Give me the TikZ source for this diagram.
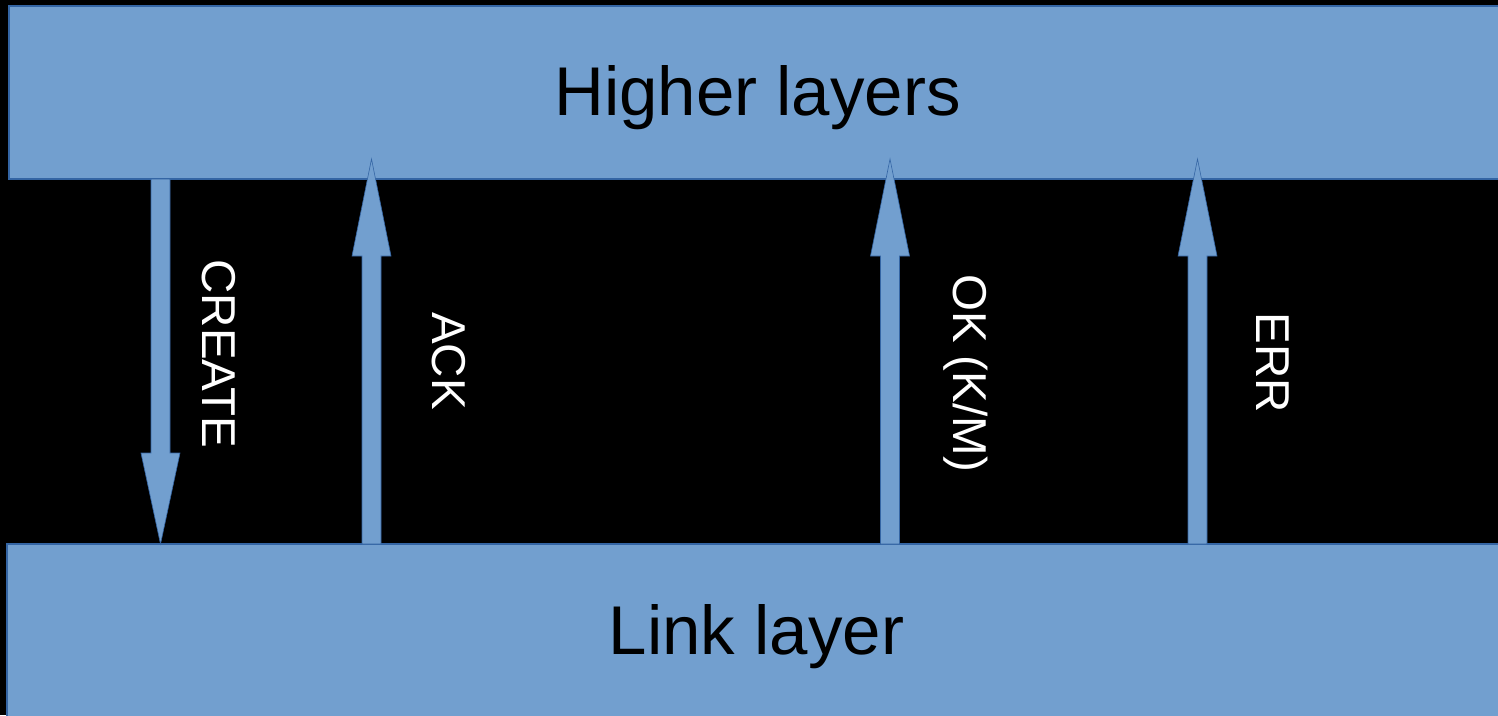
\documentclass[tikz,border=0pt]{standalone}
\usepackage{fontspec}
\setmainfont{Liberation Sans}
\definecolor{barfill}{HTML}{729FCF}
\definecolor{barline}{HTML}{3465A4}
\tikzset{
  bar/.style={fill=barfill, draw=barline, line width=1.5pt},
  blockarrow/.style={fill=barfill, draw=barline, line width=0.6pt, line join=miter},
  lbl/.style={text=white, font=\fontsize{47.5}{47.5}\selectfont, rotate=-90, inner sep=0pt},
  bartext/.style={text=black, font=\fontsize{69}{69}\selectfont, inner sep=0pt, anchor=base}
}
\begin{document}
\begin{tikzpicture}[x=1pt,y=-1pt]
\useasboundingbox (0,0) rectangle (1498,715);
\fill[black] (0,0) rectangle (1498,715);
% bars
\draw[bar] (1510,6) -- (9,6) -- (9,179) -- (1510,179) -- cycle;
\draw[bar] (1510,544) -- (7,544) -- (7,725) -- (1510,725) -- cycle;
\node[bartext] (higher) at (757.5,115) {Higher layers};
\node[bartext] (link) at (756.5,654) {Link layer};
% CREATE arrow (down)
\draw[blockarrow] (151,179) -- (170,179) -- (170,453) -- (180,453) -- (160.5,544) -- (141,453) -- (151,453) -- cycle;
% up arrows
\foreach \cx in {371.5, 890, 1197.5}{
  \draw[blockarrow] (\cx-9.5,544) -- (\cx+9.5,544) -- (\cx+9.5,256) -- (\cx+19.5,256) -- (\cx,159) -- (\cx-19.5,256) -- (\cx-9.5,256) -- cycle;
}
\node[lbl] (create) at (218.5,354) {CREATE};
\node[lbl] (ack) at (449,361) {ACK};
\node[lbl] (okl) at (966,373) {OK (K/M)};
\node[lbl] (errl) at (1273,363) {ERR};
\end{tikzpicture}
\end{document}
